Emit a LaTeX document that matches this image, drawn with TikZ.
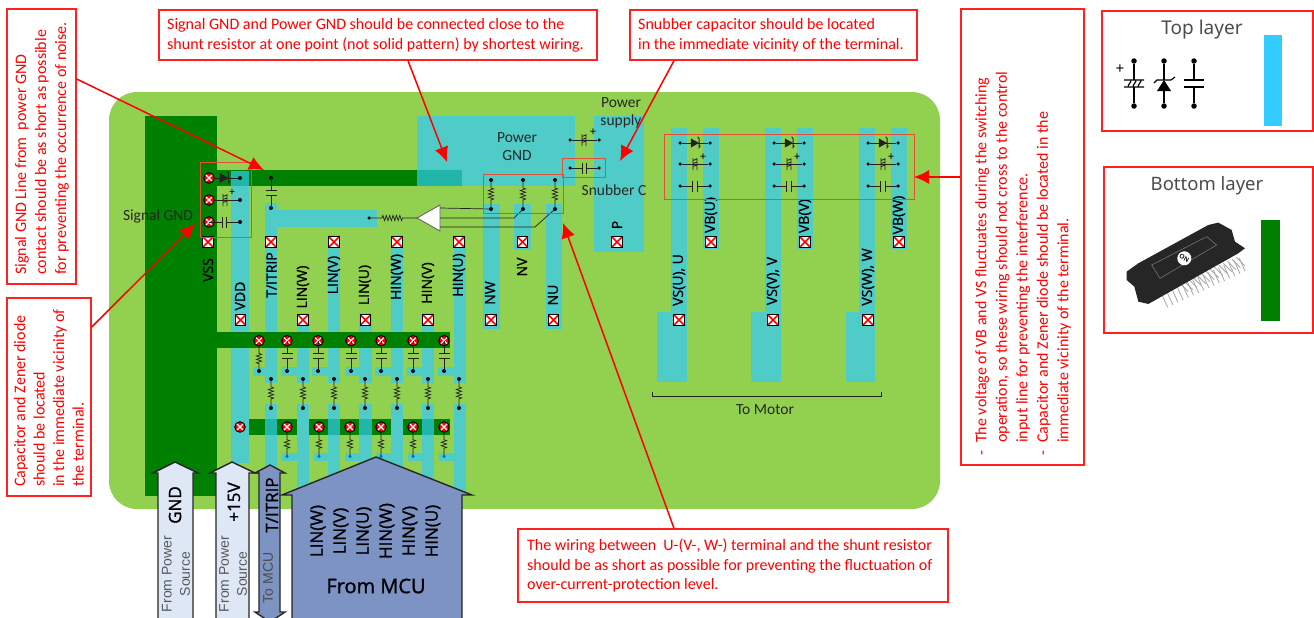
\documentclass[tikz,border=0pt]{standalone}
\usepackage{fontspec}
\setmainfont{Carlito}
\newfontfamily\pinf{Open Sans}[FakeBold=1.2]
\newfontfamily\uif{Noto Sans}
\newfontfamily\arf{Liberation Sans}
\usetikzlibrary{arrows.meta,calc,fit,decorations.pathmorphing}
\definecolor{boardc}{HTML}{92D050}
\definecolor{dkg}{HTML}{008000}
\definecolor{tealc}{HTML}{50CCC8}
\definecolor{tealdk}{HTML}{22B5A9}
\definecolor{annot}{HTML}{FF2020}
\definecolor{rimc}{HTML}{E0503A}
\definecolor{lite}{HTML}{DEE7F5}
\definecolor{midb}{HTML}{7D93C3}
\definecolor{wirec}{HTML}{222222}
\definecolor{skyc}{HTML}{33CCFF}
\tikzset{
  wire/.style={draw=wirec,line width=.7pt},
  jdot/.style={circle,fill=black,inner sep=0pt,minimum size=4pt},
  bdot/.style={circle,fill=cyan!60!blue,inner sep=0pt,minimum size=3.5pt},
  cpad/.style={circle,draw=black,line width=1pt,fill=red,inner sep=0pt,minimum size=10.5pt,
    path picture={\draw[white,line width=1.1pt]
      (path picture bounding box.north west)--(path picture bounding box.south east)
      (path picture bounding box.north east)--(path picture bounding box.south west);}},
  spad/.style={rectangle,draw=black,line width=1.4pt,fill=white,inner sep=0pt,minimum size=10.5pt,
    path picture={\draw[red,line width=1.5pt]
      (path picture bounding box.north west)--(path picture bounding box.south east)
      (path picture bounding box.north east)--(path picture bounding box.south west);}},
  rb/.style={draw=annot,line width=1.4pt,inner sep=0pt},
  rim/.style={draw=rimc,line width=1pt,inner sep=0pt},
  note/.style={text=red,align=left,inner sep=0pt,font=\fontsize{16}{20}\selectfont},
  pin/.style={text=black,rotate=90,inner sep=0pt,font=\pinf\fontsize{14}{14}\selectfont},
  lab/.style={text=black!85,inner sep=0pt,font=\fontsize{15.5}{18}\selectfont},
  redarrow/.style={draw=red,line width=1.5pt,-{Latex[length=15pt,width=14pt]}},
  arrowedge/.style={draw=black!85,line width=1.4pt,line join=miter},
  rzig/.style={wire,decorate,decoration={zigzag,segment length=3.4pt,amplitude=2.6pt,
    pre=lineto,pre length=#1,post=lineto,post length=#1}},
  rzig/.default=8pt
}
% capacitor between two named nodes
\newcommand\capn[3][5.5pt]{%
  \draw[wire] (#2.center)--($(#2)!.5!(#3)!2.3pt!(#2)$)
    ($(#2)!.5!(#3)!2.3pt!(#3)$)--(#3.center);
  \draw[wire,line width=.9pt] ($($(#2)!.5!(#3)!2.3pt!(#2)$)!#1!90:(#2)$)--($($(#2)!.5!(#3)!2.3pt!(#2)$)!#1!-90:(#2)$)
    ($($(#2)!.5!(#3)!2.3pt!(#3)$)!#1!90:(#3)$)--($($(#2)!.5!(#3)!2.3pt!(#3)$)!#1!-90:(#3)$);}
% polarised zener-like capacitor in a local frame (axis along local x)
\newcommand\zcap[1]{\begin{scope}[#1]
  \draw[wire,line width=.8pt] (-2,-6)--(-2,6) (2,-6)--(2,6)
    (-2,-3.5)--(2,-5) (-2,-.5)--(2,-2) (-2,2.5)--(2,1);
\end{scope}}
% zener diode in a local frame
\newcommand\zdio[1]{\begin{scope}[#1]
  \fill[wirec] (-4.5,-5)--(-4.5,5)--(4.5,0)--cycle;
  \draw[wire,line width=.9pt] (6,3)--(4.5,5)--(4.5,-5)--(3,-7);
\end{scope}}
\begin{document}
\begin{tikzpicture}[x=1pt,y=-1pt]
\path[use as bounding box,fill=white] (0,0) rectangle (1314,618);
% board
\fill[boardc,rounded corners=28pt] (109,92) rectangle (940,509);
\fill[dkg] (145,116) rectangle (217,496);
% teal planes
\fill[tealc] (417,116) rectangle (575,186);
\fill[tealc] (594,116) rectangle (644,252);
\fill[tealc] (231,171) rectangle (249,463);
\fill[tealc] (265,203) rectangle (277,383);
\fill[tealc] (265,210) rectangle (377,227);
\foreach \l/\r/\t in {297/309/313,328/340/235,359/372/313,391/403/235,422/434/313,454/466/235}
  \fill[tealc] (\l,\t) rectangle (\r,383);
\foreach \l/\r in {265/277,297/309,328/340,359/372,391/403,422/434,454/466}
  \fill[tealc] (\l,404) rectangle (\r,495);
\foreach \l/\r/\b in {483/500/329,514/531/250,546/562/329}
  \fill[tealc] (\l,204) rectangle (\r,\b);
\foreach \a/\c/\d in {657/671/687,751/765/781,846/859/875}{
  \fill[tealc] (\c,128) rectangle (\d,382);
  \fill[tealc] (\a,312) rectangle (\d,382);}
\foreach \c in {703,797,891}
  \fill[tealc] (\c,128) rectangle ($(\c,249)+(16,0)$);
% dark bars
\fill[dkg] (217,170) rectangle (417,186);
\fill[tealdk] (417,170) rectangle (462,186);
\fill[tealdk] (231,171) rectangle (249,186);
\fill[dkg] (217,332) rectangle (450,348);
\fill[dkg] (249,419) rectangle (450,435);
\foreach \l/\r in {265/277,328/340,359/372,422/434}
  \fill[tealdk] (\l,419) rectangle (\r,435);
\foreach \l/\r in {297/309,391/403}
  \fill[tealc] (\l,419) rectangle (\r,435);
% control inputs: filter network
\foreach \n/\dx/\col/\rgt in {a/259/271/277,b/287/303/309,c/318/334/340,d/351/365/372,e/381/397/403,f/413/428/434,g/444/459/466}{
  \fill[tealc] (\dx-6,367) rectangle (\rgt,376);
  \node[cpad] (up\n) at (\dx,340.7) {};
  \node[jdot] (ud\n) at (\dx,371) {};
  \node[jdot] (st\n) at (\col,379) {};
  \node[jdot] (sb\n) at (\col,408) {};
  \draw[rzig] (st\n.center)--(sb\n.center);
}
\draw[rzig=7pt] (upa)--(uda.center);
\foreach \n in {b,c,d,e,f,g} \capn{up\n}{ud\n};
\foreach \n/\dx/\col/\rgt in {b/287/303/309,c/319/334/340,d/350/365/372,e/381/397/403,f/413/428/434,g/444/459/466}{
  \fill[tealc] (\dx-5,453) rectangle (\rgt,461);
  \node[cpad] (lp\n) at (\dx,427) {};
  \node[bdot] (ld\n) at (\dx,456.5) {};
  \draw[rzig=7pt] (lp\n)--(ld\n.center);
}
\node[cpad] (vddlow) at (240,427) {};
% pads on the pin rows
\foreach \n/\x/\y in {vss/208/242,titrip/271/242,linv/334/242,hinw/397/242,hinu/459/242,nv/522.5/242,pp/617/242,
  vbu/711/242,vbv/805/242,vbw/899/242,vdd/240.5/320,linw/303/320,linu/365.5/320,hinv/428/320,nw/491/320,nu/553.5/320,
  vsu/679/320,vsv/773/320,vsw/868/320}
  \node[spad] (pad\n) at (\x,\y) {};
% pin labels
\foreach \n/\x/\y/\t in {vss/208/270/VSS,vdd/240/296/VDD,titrip/271.5/275/T\slash ITRIP,linw/303/287/LIN(W),linv/334/275/LIN(V),
  linu/365/285/LIN(U),hinw/397/277/HIN(W),hinv/428/283/HIN(V),hinu/459/275/HIN(U),nw/490/293/NW,nv/522/267/NV,nu/553/295/NU,pp/617/225/P,
  vsu/679/280/{VS(U), U},vsv/773/281/{VS(V), V},vsw/868/277/{VS(W), W},vbu/711/215/VB(U),vbv/805/216/VB(V),vbw/899/215/VB(W)}
  \node[pin] (lab\n) at (\x,\y) {\t};
% plain labels
\node[lab] (tsg) at (158,216) {Signal GND};
\node[lab,align=center] (tpg) at (517,147) {Power\\GND};
\node[lab,align=center] (tps) at (621,113) {Power\\supply};
\node[lab] (tsn) at (614,190) {Snubber C};
\node[lab] (ttm) at (765,410) {To Motor};
\coordinate (brl) at (652,392); \coordinate (brr) at (881,392);
\draw[wire] (brl)--++(0,4)-|(brr);
% left circular pads and symbols
\node[cpad] (sp1) at (209,178) {};
\node[cpad] (sp2) at (209,200) {};
\node[cpad] (sp3) at (209,222) {};
\node[jdot] (sd1) at (240,178) {};
\node[jdot] (sd2) at (240,200) {};
\node[jdot] (sd3) at (240,222) {};
\draw[wire] (sp1)--(sd1); \draw[wire] (sp2)--(sd2);
\capn{sp3}{sd3}
\zdio{shift={(224,178)}}
\zcap{shift={(225,200)}}
\node[text=black,inner sep=0pt,font=\fontsize{11}{11}\selectfont] (spl) at (232,192) {+};
\node[jdot] (tc1) at (271,178) {};
\node[jdot] (tc2) at (271,208) {};
\capn{tc1}{tc2}
% comparator
\fill[white,draw=black!60,line width=.9pt] (417,218)--(440,205)--(440,231)--cycle;
\coordinate (cmpt) at (417,218);
\node[jdot,minimum size=3.5pt] (rg) at (369,218) {};
\draw[rzig=13pt] (rg.center)--(cmpt);
% shunt resistors
\foreach \n/\x in {w/491,v/523,u/555}{
  \node[jdot] (shb\n) at (\x,180) {};
  \node[jdot] (she\n) at (\x,209) {};
  \draw[rzig=8pt] (shb\n.center)--(she\n.center);
}
\coordinate (cw) at (440,208); \coordinate (cv) at (440,218); \coordinate (cu) at (440,227);
\draw[wire] (cw)--(shew.center);
\draw[wire] (cv)--(514,218)--(shev.center);
\draw[wire] (cu)--(535,227)--(sheu.center);
% snubber
\node[jdot,minimum size=3.5pt] (sn1) at (570,168) {};
\node[jdot,minimum size=3.5pt] (sn2) at (599,168) {};
\node[jdot,minimum size=3.5pt] (sn3) at (570,140) {};
\node[jdot,minimum size=3.5pt] (sn4) at (599,140) {};
\capn{sn1}{sn2}
\draw[wire] (sn3)--(sn4);
\zcap{shift={(584,140)}}
\node[text=black,inner sep=0pt,font=\fontsize{12}{12}\selectfont] (snp) at (593,132) {+};
% bootstrap groups
\foreach \n/\xa/\xb in {a/680/710,b/774/804,c/868/898}{
  \node[jdot,minimum size=3.5pt] (b1\n) at (\xa,143) {};
  \node[jdot,minimum size=3.5pt] (b2\n) at (\xb,143) {};
  \node[jdot,minimum size=3.5pt] (b3\n) at (\xa,164) {};
  \node[jdot,minimum size=3.5pt] (b4\n) at (\xb,164) {};
  \node[jdot,minimum size=3.5pt] (b5\n) at (\xa,186) {};
  \node[jdot,minimum size=3.5pt] (b6\n) at (\xb,186) {};
  \draw[wire] (b1\n)--(b2\n) (b3\n)--(b4\n);
  \capn{b5\n}{b6\n}
  \zdio{shift={($(\xa,143)+(15,0)$)},scale=.9}
  \zcap{shift={($(\xa,164)+(15,0)$)}}
  \node[text=black,inner sep=0pt,font=\fontsize{12}{12}\selectfont] (bp\n) at ($(\xa,157)+(23,0)$) {+};
}
% thin red frames
\node[rim,fit={(200,162)(251,237)}] (fr1) {};
\node[rim,fit={(483,174)(563,213)}] (fr2) {};
\node[rim,fit={(562,158)(605,177)}] (fr3) {};
\node[rim,fit={(664,134)(914,199)}] (fr4) {};
% source arrows
\draw[arrowedge,fill=lite] (158,625)--(158,473)--(153,473)--(175,462)--(198,473)--(193,473)--(193,625);
\draw[arrowedge,fill=lite] (216,625)--(216,473)--(210,473)--(232,462)--(255,473)--(249,473)--(249,625);
\draw[arrowedge,fill=midb] (259,612)--(259,473)--(255,473)--(270,465)--(285,473)--(280,473)--(280,612)--(285,612)--(270,622)--(255,612)--cycle;
\draw[arrowedge,fill=midb] (292,625)--(292,495)--(282,495)--(376,457)--(472,495)--(462,495)--(462,625);
\node[text=black,rotate=90,inner sep=0pt,font=\pinf\fontsize{17}{17}\selectfont] (agnd) at (175,505) {GND};
\node[text=black,rotate=90,inner sep=0pt,font=\pinf\fontsize{17}{17}\selectfont] (a15) at (234,502) {+15V};
\node[text=black,rotate=90,inner sep=0pt,font=\pinf\fontsize{17}{17}\selectfont] (ati) at (272,505) {T/ITRIP};
\node[text=black!65,rotate=90,align=center,inner sep=0pt,font=\arf\fontsize{14}{18}\selectfont] (afp1) at (176,574) {From Power\\Source};
\node[text=black!65,rotate=90,align=center,inner sep=0pt,font=\arf\fontsize{14}{18}\selectfont] (afp2) at (233,574) {From Power\\Source};
\node[text=black!70,rotate=90,inner sep=0pt,font=\arf\fontsize{14}{14}\selectfont] (amcu) at (268,578) {To MCU};
\foreach \n/\x/\t in {a/318/LIN(W),b/341/LIN(V),c/364/LIN(U),d/387/HIN(W),e/410/HIN(V),f/433/HIN(U)}
  \node[text=black,rotate=90,inner sep=0pt,font=\pinf\fontsize{17}{17}\selectfont] (mcu\n) at (\x,531) {\t};
\node[text=black,inner sep=0pt,font=\pinf\fontsize{20}{20}\selectfont] (fmcu) at (376,586) {From MCU};
% annotation boxes
\node[rb,fit={(7,9)(76,284)}] (n1) {};
\node[note,rotate=90,anchor=west] (n1t) at (42,275) {Signal GND Line from~ power GND\\contact should be as short as possible\\for preventing the occurrence of noise.};
\node[rb,fit={(7,298)(91,496)}] (n2) {};
\node[note,rotate=90,anchor=west,font=\fontsize{16}{19.5}\selectfont] (n2t) at (49,487) {Capacitor and Zener diode\\should be located\\in the immediate vicinity of\\the terminal.};
\node[rb,fit={(159,10)(597,60)}] (n3) {};
\node[note,anchor=west] (n3t) at (167,35) {Signal GND and Power GND should be connected close to the\\shunt resistor at one point (not solid pattern) by shortest wiring.};
\node[rb,fit={(630,10)(917,60)}] (n4) {};
\node[note,anchor=west] (n4t) at (638,35) {Snubber capacitor should be located\\in the immediate vicinity of the terminal.};
\node[rb,fit={(961,9)(1084,465)}] (n5) {};
\node[note,rotate=90,anchor=west,font=\fontsize{16}{20.5}\selectfont] (n5t) at (1023,456) {\makebox[13pt][l]{-}The voltage of VB and VS fluctuates during the switching\\\hspace*{13pt}operation, so these wiring should not cross to the control\\\hspace*{13pt}input line for preventing the interference.\\\makebox[13pt][l]{-}Capacitor and Zener diode should be located in the\\\hspace*{13pt}immediate vicinity of the terminal.};
\node[rb,fit={(518,529)(948,602)}] (n6) {};
\node[note,anchor=west,font=\fontsize{16}{19.5}\selectfont] (n6t) at (527,565.5) {The wiring between~ U-(V-, W-) terminal and the shunt resistor\\should be as short as possible for preventing the fluctuation of\\over-current-protection level.};
% red leader arrows
\coordinate (t1) at (264,170); \coordinate (t2) at (195,224); \coordinate (t3) at (447,162);
\coordinate (t4) at (620,161); \coordinate (t5) at (914,177); \coordinate (t6) at (563,223);
\draw[redarrow] (n1.east|-0,79)--(t1);
\draw[redarrow] (n2.east|-0,327)--(t2);
\draw[redarrow] (n3.south-|408,0)--(t3);
\draw[redarrow] (n4.south-|674,0)--(t4);
\draw[redarrow] (n5.west|-t5)--(t5);
\draw[redarrow] (n6.north-|674,0)--(t6);
% legend: top layer
\node[draw=annot,line width=1.1pt,inner sep=0pt,fit={(1102,11)(1313,131)}] (ltop) {};
\node[text=black!70,inner sep=0pt,font=\uif\fontsize{19}{19}\selectfont] (ltopt) at (1202,30) {Top layer};
\fill[skyc] (1264,35) rectangle (1282,126);
\tikzset{lg/.style={draw=black,line width=1.2pt}}
\foreach \n/\x in {a/1134,b/1164,c/1194}{
  \node[jdot,minimum size=5.5pt] (lt\n) at (\x,61) {};
  \node[jdot,minimum size=5.5pt] (lb\n) at (\x,106) {};
}
\draw[lg] (lta)--(1134,80) (1134,87)--(lba);
\draw[lg] (1124,80)--(1144,80) (1124,87)--(1144,87)
  (1128,86)--(1131,81) (1133,86)--(1136,81) (1138,86)--(1141,81);
\node[text=black,inner sep=0pt,font=\arf\fontsize{15}{15}\selectfont] (lplus) at (1120,69) {+};
\draw[lg] (ltb)--(1164,80) (1164,91)--(lbb);
\fill[black] (1164,80)--(1157,91)--(1171,91)--cycle;
\draw[lg] (1154,83)--(1157,80)--(1171,80)--(1175,77);
\draw[lg] (ltc)--(1194,80) (1194,87)--(lbc);
\draw[lg] (1184,80)--(1204,80) (1184,87)--(1204,87);
% legend: bottom layer
\node[draw=annot,line width=1.1pt,inner sep=0pt,fit={(1104,167)(1313,333)}] (lbot) {};
\node[text=black!70,inner sep=0pt,font=\uif\fontsize{18.5}{19}\selectfont] (lbott) at (1207,186) {Bottom layer};
\fill[dkg] (1261,220) rectangle (1280,321);
% package sketch
\begin{scope}[shift={(1095,0)},x=.3333pt,y=-.3333pt]
  \foreach \t in {0,...,15}{
    \draw[black!35,line width=.8pt] (200+\t*15.5,882-\t*7.2)--++(18,40);
  }
  \foreach \t in {0,...,13}{
    \draw[black!35,line width=.8pt] (255+\t*13,850-\t*6)--++(25,25);
  }
  \fill[black!85] (95,815)--(130,790)--(340,675)--(370,668)--(410,690)--(420,725)--(450,745)--(430,760)--(160,912)--(130,905)--(118,860)--(95,840)--cycle;
  \draw[black!55,line width=.6pt] (170,795)--(335,710)--(365,735)--(195,835)--cycle;
  \node[circle,fill=white,text=black,rotate=-28,inner sep=0pt,minimum size=14pt,font=\arf\bfseries\fontsize{6.5}{7}\selectfont] (onc) at (268,775) {ON};
\end{scope}
\end{tikzpicture}
\end{document}
